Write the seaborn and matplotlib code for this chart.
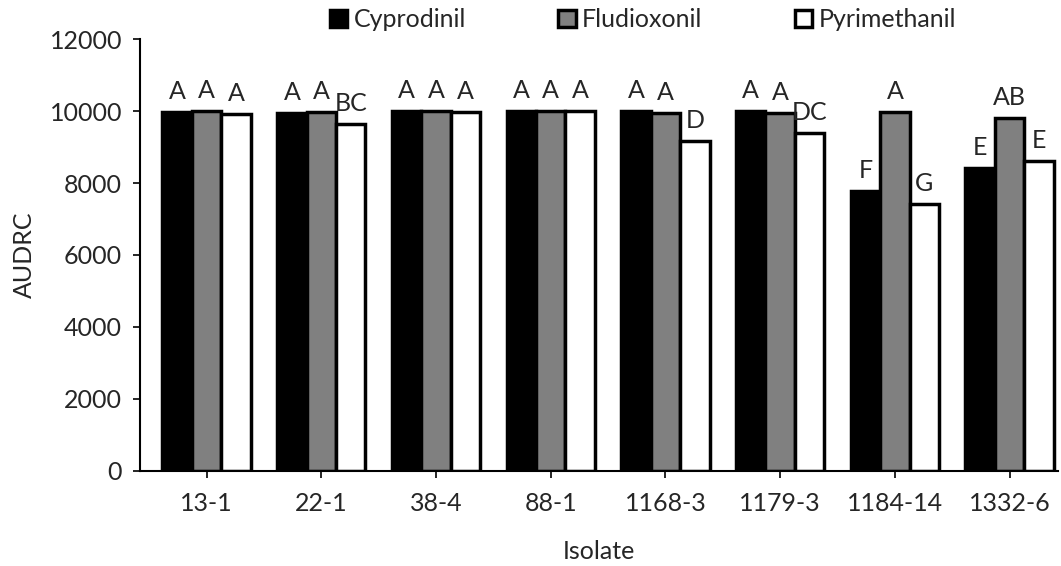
import numpy as np
import pandas as pd
import matplotlib
matplotlib.use("Agg")
import matplotlib.pyplot as plt
import seaborn as sns

# Data
isolates = ["13-1", "22-1", "38-4", "88-1", "1168-3", "1179-3", "1184-14", "1332-6"]
cyprodinil = [9980, 9950, 9990, 9990, 10000, 9990, 7780, 8420]
fludioxonil = [10000, 9960, 10000, 10000, 9950, 9950, 9960, 9800]
pyrimethanil = [9930, 9630, 9970, 9990, 9170, 9400, 7430, 8620]
letters_cyp = ["A", "A", "A", "A", "A", "A", "F", "E"]
letters_flu = ["A", "A", "A", "A", "A", "A", "A", "AB"]
letters_pyr = ["A", "BC", "A", "A", "D", "DC", "G", "E"]

fungicides = ["Cyprodinil", "Fludioxonil", "Pyrimethanil"]
df = pd.DataFrame({
    "Isolate": isolates * 3,
    "Fungicide": np.repeat(fungicides, len(isolates)),
    "AUDRC": cyprodinil + fludioxonil + pyrimethanil,
    "Letter": letters_cyp + letters_flu + letters_pyr,
})

sns.set_style("white")
plt.rcParams["font.family"] = ["Lato", "DejaVu Sans"]
fs = 18

fig = plt.figure(figsize=(10.61, 5.66), dpi=100)
ax = fig.add_axes([0.132, 0.168, 0.865, 0.763])

sns.barplot(data=df, x="Isolate", y="AUDRC", hue="Fungicide",
            palette=["black", "#808080", "white"], edgecolor="black",
            linewidth=2.5, width=0.77, ax=ax, legend=True)

# significance letters above bars
for cont, fung in zip(ax.containers, fungicides):
    labs = df.loc[df["Fungicide"] == fung, "Letter"].tolist()
    for bar, lab in zip(cont, labs):
        ax.text(bar.get_x() + bar.get_width() / 2, bar.get_height() + 250, lab,
                ha="center", va="bottom", fontsize=fs)

ax.set_ylim(0, 12000)
ax.set_xlim(-0.58, 7.42)
ax.set_yticks(range(0, 12001, 2000))
ax.set_xlabel("Isolate", fontsize=fs, labelpad=18)
ax.set_ylabel("AUDRC", fontsize=fs, labelpad=10)
ax.tick_params(axis="both", labelsize=fs, length=5, width=1.2, direction="out",
               color="black", bottom=True, left=True)
ax.tick_params(axis="x", pad=10)
ax.tick_params(axis="y", pad=8)
for s in ["top", "right"]:
    ax.spines[s].set_visible(False)
for s in ["left", "bottom"]:
    ax.spines[s].set_color("black")
    ax.spines[s].set_linewidth(1.5)

handles, labels = ax.get_legend_handles_labels()
ax.get_legend().remove()
fig.legend(handles, labels, loc="center", bbox_to_anchor=(0.606, 0.965), ncol=3,
           frameon=False, fontsize=fs, handlelength=0.7, handleheight=0.7,
           handletextpad=0.25, columnspacing=3.7)

fig.savefig("out.png", dpi=100)
